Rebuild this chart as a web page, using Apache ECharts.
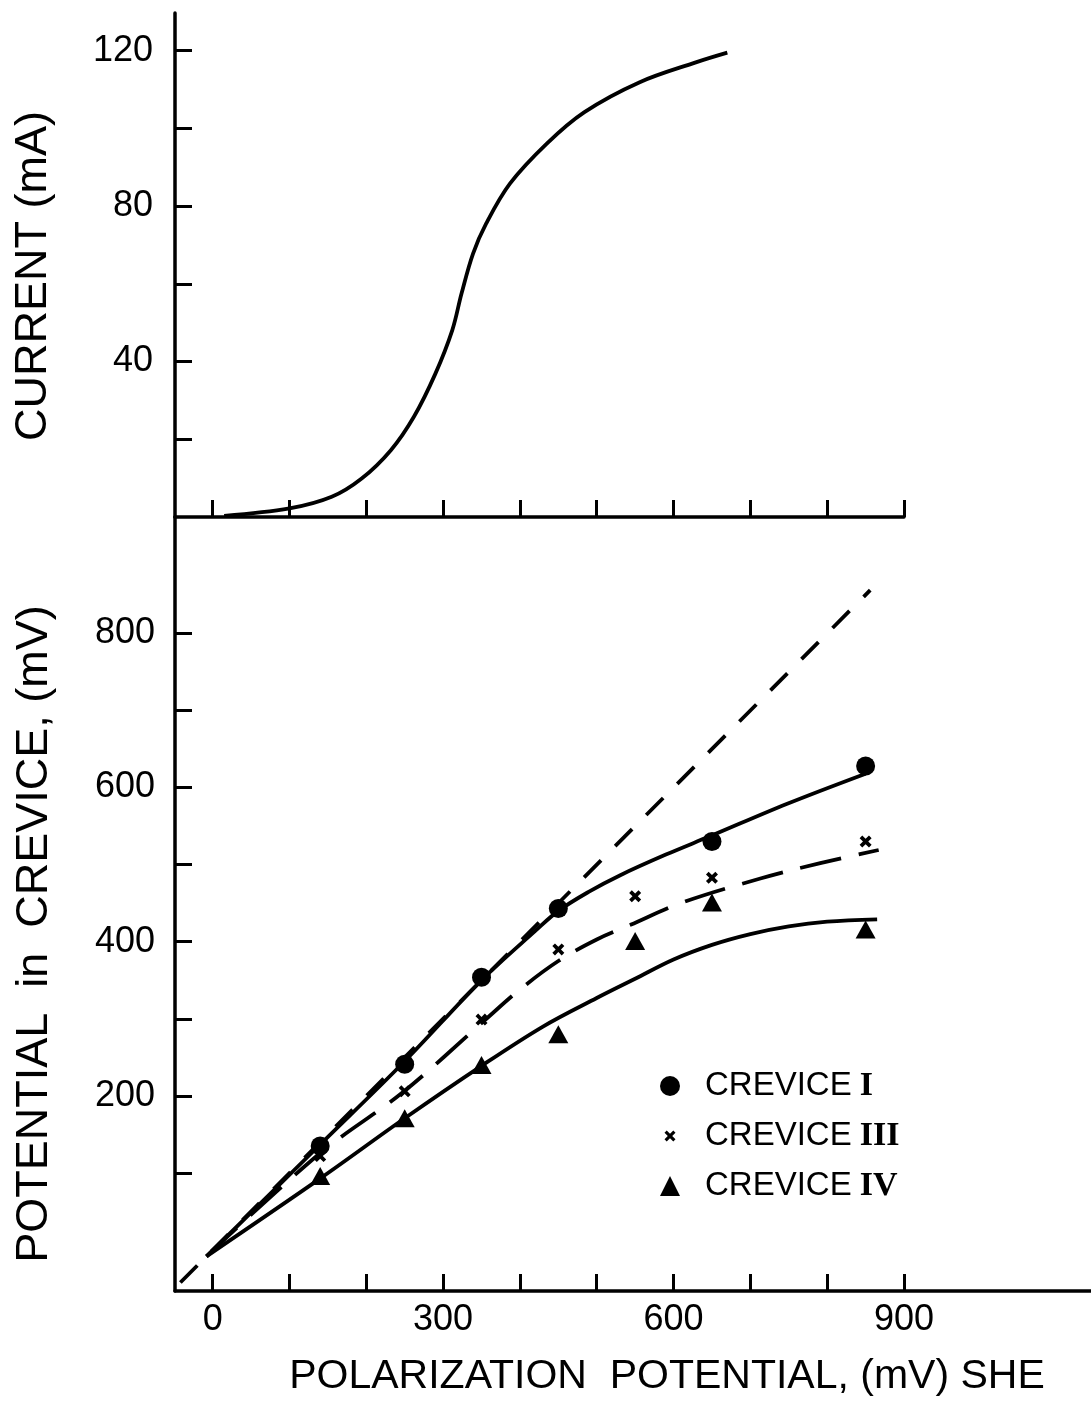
<!DOCTYPE html>
<html>
<head>
<meta charset="utf-8">
<script src="https://cdn.jsdelivr.net/npm/echarts@6/dist/echarts.min.js"></script>
<style>
  html, body { margin: 0; padding: 0; background: #fff; }
  #chart { width: 1091px; height: 1408px; }
</style>
</head>
<body>
<div id="chart"></div>
<script>
// Axis ticks and labels
const potentialTicks = [0, 100, 200, 300, 400, 500, 600, 700, 800, 900];
const potentialLabels = [0, 300, 600, 900];
const currentTicks = [20, 40, 60, 80, 100, 120];
const currentLabels = [40, 80, 120];
const creviceTicks = [100, 200, 300, 400, 500, 600, 700, 800];
const creviceLabels = [200, 400, 600, 800];

// Anodic current (mA) against polarization potential (mV)
const currentCurve = [
  [15, 0.3], [100, 2.2], [155, 5.2], [194, 9.9], [232, 17.2], [262, 25.8],
  [290, 36.9], [312, 48.1], [324, 57.5], [339, 67.8], [356, 75.5], [387, 85.8],
  [435, 96.1], [484, 104.2], [556, 111.9], [629, 117.0], [670, 119.5]
];

// Measured potentials inside each crevice (mV)
const creviceI = [[140, 135], [250, 241], [350, 354], [450, 443], [650, 530], [850, 628]];
const creviceIII = [[140, 122], [250, 206], [350, 299], [450, 390], [550, 459], [650, 483], [850, 530]];
const creviceIV = [[140, 96], [250, 171], [350, 240], [450, 280], [550, 401], [650, 451], [850, 416]];

// Trend curves drawn through each set of points
const trendI = [
  [-8, -8], [140, 137], [250, 245], [350, 350], [420, 414], [450, 440],
  [490, 465], [530, 486], [590, 513], [648, 537], [748, 579], [850, 618]
];
const trendIII = [
  [-8, -8], [139, 125], [248, 205], [354, 298], [400, 338], [450, 375],
  [500, 403], [544, 422], [609, 450], [713, 482], [791, 502], [867, 519]
];
const trendIV = [
  [-8, -8], [143, 95], [250, 171], [350, 239], [430, 290], [500, 327],
  [550, 352], [600, 377], [650, 396], [700, 410], [750, 420], [800, 426], [865, 429]
];

// Crevice potential equal to the applied potential
const equalLine = [[-42, -42], [856, 856]];

// Legend entries: series name and its roman numeral
const legendNames = ['CREVICE I', 'CREVICE III', 'CREVICE IV'];

const FONT = 'Liberation Sans';
const INK = '#000';

const crossPath = 'path://M0,2.2 L2.2,0 L5,2.8 L7.8,0 L10,2.2 L7.2,5 L10,7.8 L7.8,10 L5,7.2 L2.2,10 L0,7.8 L2.8,5 Z';
const crossLegendPath = 'path://M0,0 L0.05,0 L0,0.05 Z M20,20 L19.95,20 L20,19.95 Z ' +
  'M4.5,6.7 L6.7,4.5 L10,7.8 L13.3,4.5 L15.5,6.7 L12.2,10 L15.5,13.3 L13.3,15.5 L10,12.2 L6.7,15.5 L4.5,13.3 L7.8,10 Z';

function axisCommon(ticks, labels, showLabels) {
  return {
    type: 'value',
    axisLine: { show: true, onZero: false, lineStyle: { color: INK, width: 3.5, cap: 'round' } },
    axisTick: { show: true, inside: true, length: 17, customValues: ticks, lineStyle: { color: INK, width: 3 } },
    axisLabel: {
      show: showLabels, customValues: labels, color: INK,
      fontFamily: FONT, fontSize: 36
    },
    splitLine: { show: false }
  };
}

const chart = echarts.init(document.getElementById('chart'), null, { renderer: 'canvas' });

const xTop = axisCommon(potentialTicks, potentialLabels, false);
Object.assign(xTop, { gridIndex: 0, min: -49, max: 900 });
const xBottom = axisCommon(potentialTicks, potentialLabels, true);
Object.assign(xBottom, { gridIndex: 1, min: -49, max: 1143.4 });
xBottom.axisLabel.margin = 11;

const yTop = axisCommon(currentTicks, currentLabels, true);
Object.assign(yTop, { gridIndex: 0, min: 0, max: 129.7 });
yTop.axisLabel.margin = 22;
const yBottom = axisCommon(creviceTicks, creviceLabels, true);
Object.assign(yBottom, { gridIndex: 1, min: -53, max: 950.9 });
yBottom.axisLabel.margin = 20;

const curveStyle = { color: INK, width: 3.8 };
const markStyle = { color: INK, opacity: 1 };

chart.setOption({
  backgroundColor: '#fff',
  animation: false,
  textStyle: { fontFamily: FONT },
  grid: [
    { left: 175, top: 13, width: 729, height: 504 },
    { left: 175, top: 517, width: 916, height: 774 }
  ],
  xAxis: [xTop, xBottom],
  yAxis: [yTop, yBottom],
  legend: {
    left: 660, top: 1069, orient: 'vertical', padding: 0,
    itemWidth: 20, itemHeight: 20, itemGap: 16,
    selectedMode: false,
    itemStyle: { opacity: 1, color: INK },
    textStyle: {
      color: INK, fontFamily: FONT, fontSize: 33, padding: [0, 0, 0, 20],
      rich: { r: { fontFamily: 'Liberation Serif', fontSize: 34, color: INK, fontWeight: 'bold', padding: [0, 0, 0, 8] } }
    },
    formatter: function (name) { return name.replace(/ (I[IV]*|IV)$/, '{r|$1}'); },
    data: [
      { name: legendNames[0], icon: 'circle' },
      { name: legendNames[1], icon: crossLegendPath },
      { name: legendNames[2], icon: 'triangle' }
    ]
  },
  graphic: [
    {
      type: 'text', x: 34, y: 276, rotation: Math.PI / 2,
      style: { text: 'CURRENT (mA)', font: '45px "Liberation Sans"', fill: INK, align: 'center', verticalAlign: 'middle' }
    },
    {
      type: 'text', x: 35, y: 934, rotation: Math.PI / 2,
      style: { text: 'POTENTIAL  in  CREVICE, (mV)', font: '45px "Liberation Sans"', fill: INK, align: 'center', verticalAlign: 'middle' }
    },
    {
      type: 'text', x: 667, y: 1377,
      style: { text: 'POLARIZATION  POTENTIAL, (mV) SHE', font: '41px "Liberation Sans"', fill: INK, align: 'center', verticalAlign: 'middle' }
    }
  ],
  series: [
    {
      name: 'current', type: 'line', xAxisIndex: 0, yAxisIndex: 0,
      data: currentCurve, smooth: 0.35, showSymbol: false, lineStyle: curveStyle, silent: true
    },
    {
      name: 'equal', type: 'line', xAxisIndex: 1, yAxisIndex: 1,
      data: equalLine, showSymbol: false, silent: true,
      lineStyle: { color: INK, width: 3.8, type: [24, 20] }
    },
    {
      name: 'trend I', type: 'line', xAxisIndex: 1, yAxisIndex: 1,
      data: trendI, smooth: 0.35, showSymbol: false, lineStyle: curveStyle, silent: true
    },
    {
      name: 'trend III', type: 'line', xAxisIndex: 1, yAxisIndex: 1,
      data: trendIII, smooth: 0.35, showSymbol: false, silent: true,
      lineStyle: { color: INK, width: 3.8, type: [42, 18] }
    },
    {
      name: 'trend IV', type: 'line', xAxisIndex: 1, yAxisIndex: 1,
      data: trendIV, smooth: 0.35, showSymbol: false, lineStyle: curveStyle, silent: true
    },
    {
      name: legendNames[0], type: 'scatter', xAxisIndex: 1, yAxisIndex: 1,
      data: creviceI, symbol: 'circle', symbolSize: 19, itemStyle: markStyle
    },
    {
      name: legendNames[1], type: 'scatter', xAxisIndex: 1, yAxisIndex: 1,
      data: creviceIII, symbol: crossPath, symbolSize: 12, itemStyle: markStyle
    },
    {
      name: legendNames[2], type: 'scatter', xAxisIndex: 1, yAxisIndex: 1,
      data: creviceIV, symbol: 'triangle', symbolSize: [20, 18], itemStyle: markStyle
    }
  ]
});
</script>
</body>
</html>
